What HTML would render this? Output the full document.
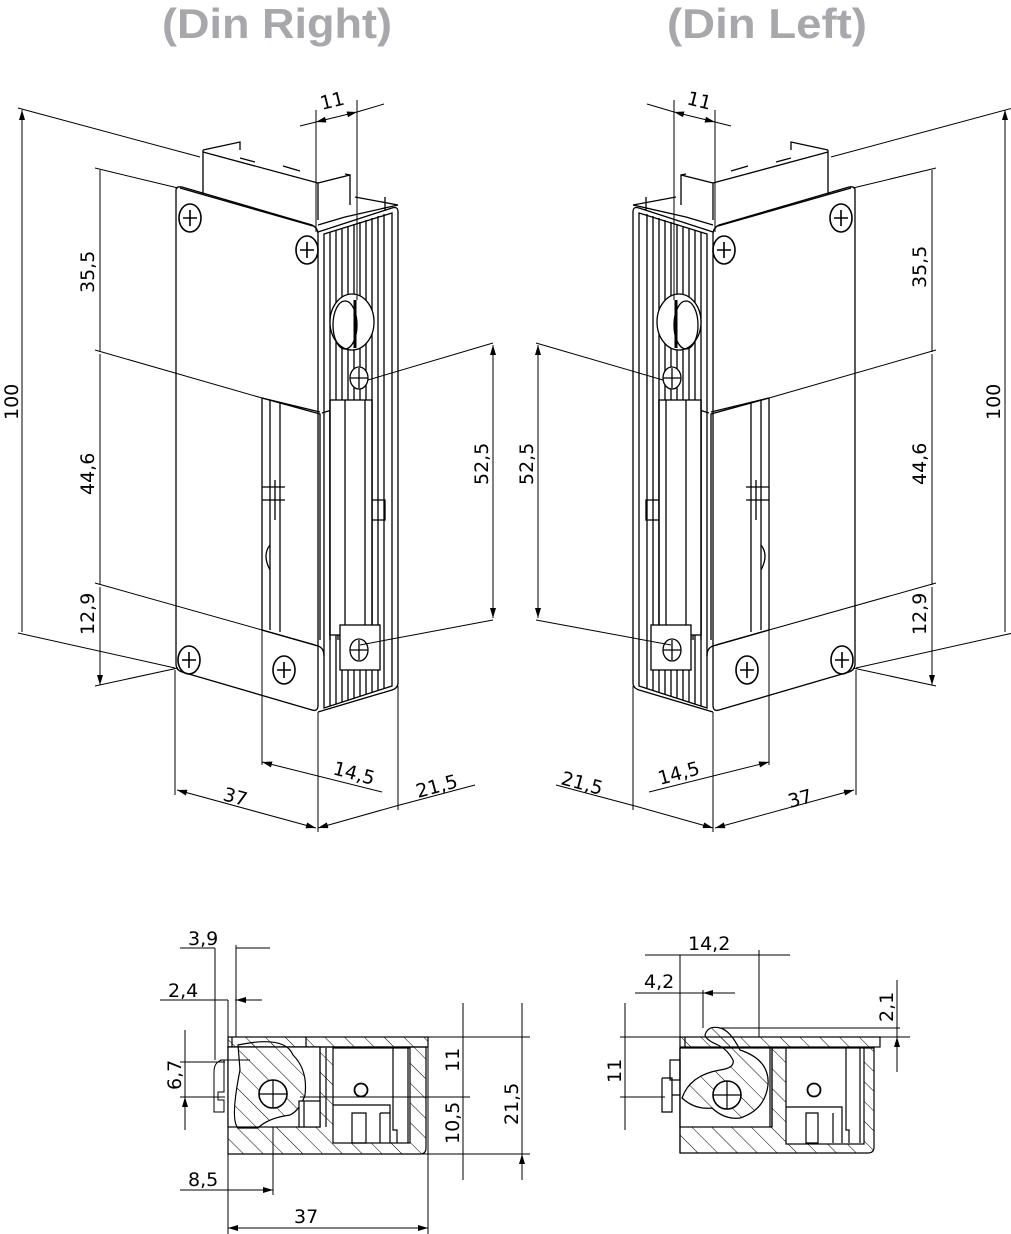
<!DOCTYPE html>
<html><head><meta charset="utf-8"><style>
html,body{margin:0;padding:0;background:#fff;width:1011px;height:1234px;overflow:hidden}
svg{display:block}
.t{font-family:"DejaVu Sans","Liberation Sans",sans-serif;font-size:19px;fill:#000}
.h{font-family:"Liberation Sans",sans-serif;font-weight:bold;font-size:42px;fill:#a7a7ac}
</style></head><body>
<svg width="1011" height="1234" viewBox="0 0 1011 1234" xmlns="http://www.w3.org/2000/svg">
<defs>
<pattern id="hat" width="14" height="14" patternUnits="userSpaceOnUse" patternTransform="rotate(-45)">
<line x1="0" y1="0" x2="0" y2="14" stroke="#000" stroke-width="1"/></pattern>
<marker id="a" viewBox="0 0 10 6" refX="10" refY="3" markerWidth="12" markerHeight="6" orient="auto-start-reverse" markerUnits="userSpaceOnUse"><path d="M0,0 L10,3 L0,6Z" fill="#000"/></marker>
<g id="body" fill="none" stroke="#000" stroke-width="1.3">
 <path d="M203,150 L203,195 M203,150 L240,142 L240,150 M203,152 L318,183 L318,220 M318,183 L350,175 L350,205 M350,175 L345,174"/>
 <path d="M240,158 L255,162 M283,166 L300,171"/>
 <path d="M176,190 Q176,186 182,187 L312,225 Q318,228 318,234 L318,705 Q318,712 312,710 L182,672 Q176,670 176,664 Z"/>
 <path d="M180,188 L313,226"/>
 <path d="M262,398 L262,630 M262,630 L315,645 M262,398 L320,412 M270,400 L270,630 M280,402 L280,632"/>
 <path d="M262,398 L320,414 L320,640 M330,410 L330,640 M322,413 L338,408 L338,640 M340,408 L340,640"/>
 <path d="M318,232 L392,208 Q398,206 398,212 L398,683 Q398,688 392,690 L318,712"/>
 <path d="M324,234 L392,213 L392,686 L324,708 Z"/>
 <path d="M330,232 V706 M336,230 V704 M342,228 V702 M348,226 V700 M354,224 V698 M360,222 V696 M366,220 V694 M372,218 V692 M378,216 V690 M384,214 V688"/>
 <path d="M318,225 L345,217 L398,205 M355,197 L398,205 M385,197 L385,210"/>
 <rect x="330" y="400" width="42" height="235" fill="#fff"/>
 <path d="M330,400 V635 M372,400 V635 M345,400 V635 M365,400 V635 M372,500 L385,500 V520 L372,520"/>
 <ellipse cx="352" cy="322" rx="22" ry="28" fill="#fff"/>
 <ellipse cx="345" cy="325" rx="12" ry="24"/>
 <path d="M355,300 V348" stroke-width="3"/>
 <ellipse cx="359" cy="378" rx="9" ry="11" fill="#fff"/><path d="M350,378 H368 M359,368 V388"/>
 <rect x="340" y="625" width="40" height="45" fill="#fff"/>
 <ellipse cx="359" cy="650" rx="9" ry="11"/><path d="M350,650 H368 M359,640 V660"/>
 <path d="M262,630 L318,646 Q324,648 324,656"/>
 <path d="M270,545 Q262,555 270,570 M275,480 L275,520 M262,487 L285,487 M262,500 L285,500"/>
 <g stroke-width="1.6"><ellipse cx="190" cy="218" rx="11" ry="14"/><path d="M183,218 H197 M190,210 V226"/>
 <ellipse cx="307" cy="250" rx="11" ry="14"/><path d="M300,250 H314 M307,242 V258"/>
 <ellipse cx="189" cy="660" rx="11" ry="14"/><path d="M182,660 H196 M189,652 V668"/>
 <ellipse cx="284" cy="670" rx="11" ry="14"/><path d="M277,670 H291 M284,662 V678"/></g>
</g>
</defs>
<text class="h" x="162" y="38" textLength="230" lengthAdjust="spacingAndGlyphs">(Din Right)</text>
<text class="h" x="667" y="38" textLength="200" lengthAdjust="spacingAndGlyphs">(Din Left)</text>

<use href="#body"/>
<use href="#body" transform="translate(1031,0) scale(-1,1)"/>

<g stroke="#000" stroke-width="1" fill="none">
 <path d="M18,108 L200,157 M18,633 L175,668 M95,168 L178,188 M95,350 L262,398 M95,583 L262,630 M95,686 L178,668"/>
 <path d="M22,110 V632 M100,170 V352 M100,354 V585 M100,587 V685" marker-start="url(#a)" marker-end="url(#a)"/>
 <path d="M493,343 L368,380 M493,620 L360,645"/>
 <path d="M493,345 V618" marker-start="url(#a)" marker-end="url(#a)"/>
 <path d="M316,110 V232 M357,100 V300"/>
 <path d="M300,126 L316,122 M357,112 L384,104"/>
 <path d="M316,122 L357,112" marker-start="url(#a)" marker-end="url(#a)"/>
 <path d="M175,670 V795 M318,712 V832 M262,630 V765 M398,686 V810"/>
 <path d="M177,790 L316,828" marker-start="url(#a)" marker-end="url(#a)"/>
 <path d="M262,762 L382,792" marker-start="url(#a)"/>
 <path d="M318,828 L396,806" marker-start="url(#a)"/><path d="M396,806 L475,785"/>
</g>
<g class="t">
 <text transform="translate(18,420) rotate(-90)">100</text>
 <text transform="translate(94,293) rotate(-90)">35,5</text>
 <text transform="translate(94,495) rotate(-90)">44,6</text>
 <text transform="translate(94,635) rotate(-90)">12,9</text>
 <text transform="translate(488,485) rotate(-90)">52,5</text>
 <text transform="translate(322,110) rotate(-14)">11</text>
 <text transform="translate(222,800) rotate(15)">37</text>
 <text transform="translate(332,774) rotate(15)">14,5</text>
 <text transform="translate(418,798) rotate(-15)">21,5</text>
</g>
<g stroke="#000" stroke-width="1" fill="none">
 <path d="M1013,108 L831,157 M1013,633 L856,668 M936,168 L853,188 M936,350 L769,398 M936,583 L769,630 M936,686 L853,668"/>
 <path d="M1005,110 V632 M932,170 V352 M932,354 V585 M932,587 V685" marker-start="url(#a)" marker-end="url(#a)"/>
 <path d="M536,343 L663,380 M536,620 L671,645"/>
 <path d="M538,345 V618" marker-start="url(#a)" marker-end="url(#a)"/>
 <path d="M715,110 V232 M674,100 V300"/>
 <path d="M731,126 L715,122 M674,112 L647,104"/>
 <path d="M715,122 L674,112" marker-start="url(#a)" marker-end="url(#a)"/>
 <path d="M856,670 V795 M713,712 V832 M769,630 V765 M633,686 V810"/>
 <path d="M854,790 L715,828" marker-start="url(#a)" marker-end="url(#a)"/>
 <path d="M769,762 L649,792" marker-start="url(#a)"/>
 <path d="M713,828 L635,806" marker-start="url(#a)"/><path d="M635,806 L556,785"/>
</g>
<g class="t">
 <text transform="translate(1000,420) rotate(-90)">100</text>
 <text transform="translate(926,288) rotate(-90)">35,5</text>
 <text transform="translate(926,485) rotate(-90)">44,6</text>
 <text transform="translate(926,635) rotate(-90)">12,9</text>
 <text transform="translate(533,485) rotate(-90)">52,5</text>
 <text transform="translate(686,104) rotate(14)">11</text>
 <text transform="translate(790,808) rotate(-15)">37</text>
 <text transform="translate(660,785) rotate(-15)">14,5</text>
 <text transform="translate(560,784) rotate(15)">21,5</text>
</g>

<g stroke="#000" stroke-width="1.2" fill="none">
 <path d="M228,1047 V1154 H420 Q426,1154 426,1148 V1047 Z" fill="url(#hat)"/>
 <rect x="228" y="1037" width="200" height="10" fill="url(#hat)"/>
 <path d="M306,1037 V1047 M232,1037 V1047"/>
 <rect x="228" y="1047" width="92" height="80" fill="#fff"/>
 <rect x="333" y="1048" width="77" height="95" fill="#fff"/>
 <path d="M320,1047 V1127 M326,1048 V1127"/>
 <path d="M238,1045 Q285,1035 293,1055 Q308,1070 305,1095 Q300,1110 290,1115 Q268,1118 258,1128 L238,1128 Q230,1120 240,1070 Z" fill="url(#hat)"/>
 <circle cx="273" cy="1094" r="14" fill="#fff" stroke-width="1.6"/>
 <path d="M259,1094 H287 M273,1080 V1108"/>
 <rect x="299" y="1101" width="21" height="26" fill="#fff"/>
 <path d="M304,1101 V1127"/>
 <circle cx="361" cy="1090" r="6.5" stroke-width="1.8"/>
 <path d="M333,1105 H390 V1143 M352,1113 V1143 H366 V1113 Z M380,1113 V1143 M380,1113 H390 M393,1048 V1130 H397 V1143 M408,1048 V1143"/>
 <path d="M222,1060 Q214,1062 214,1072 L214,1112 H224 V1100 H218 V1092 H224 V1060 Z M220,1060 H250 M228,1060 V1140" stroke-width="1"/>
</g>
<g stroke="#000" stroke-width="1" fill="none">
 <path d="M215,948 V1060 M236,945 V1037 M228,1000 V1037 M235,1000 H262 M160,1000 H228 M180,948 H215 M236,948 H270"/>
 <path d="M200,948 L215,948 M251,948 L236,948 M212,1000 L228,1000 M250,1000 L236,1000" marker-end="url(#a)"/>
 <path d="M180,1062 H225 M180,1097 H225 M185,1030 V1130"/>
 <path d="M185,1045 V1062 M185,1115 V1097" marker-end="url(#a)"/>
 <path d="M428,1037 H530 M422,1154 H530 M300,1097 H470 M463,1003 V1180 M522,1003 V1180"/>
 <path d="M463,1018 V1037 M463,1080 V1097 M463,1115 V1097 M463,1170 V1154 M522,1018 V1037 M522,1170 V1154" marker-end="url(#a)"/>
 <path d="M228,1154 V1234 M428,1047 V1234 M273,1127 V1195 M180,1190 H273"/>
 <path d="M213,1190 L228,1190 M258,1190 L273,1190" marker-end="url(#a)"/>
 <path d="M228,1228 H428" marker-start="url(#a)" marker-end="url(#a)"/>
</g>
<g class="t">
 <text x="188" y="945">3,9</text>
 <text x="168" y="997">2,4</text>
 <text transform="translate(181,1090) rotate(-90)">6,7</text>
 <text transform="translate(459,1072) rotate(-90)">11</text>
 <text transform="translate(459,1144) rotate(-90)">10,5</text>
 <text transform="translate(518,1125) rotate(-90)">21,5</text>
 <text x="188" y="1186">8,5</text>
 <text x="294" y="1223">37</text>
</g>

<g stroke="#000" stroke-width="1.2" fill="none">
 <path d="M680,1048 V1153 H868 Q874,1153 874,1147 V1048 Z" fill="url(#hat)"/>
 <rect x="680" y="1037" width="200" height="10" fill="url(#hat)"/>
 <path d="M685,1037 V1047"/>
 <rect x="680" y="1048" width="92" height="79" fill="#fff"/>
 <path d="M772,1048 V1127 M770,1048 V1127"/>
 <rect x="786" y="1048" width="78" height="96" fill="#fff"/>
 <path d="M705,1035 Q708,1025 720,1028 Q730,1030 740,1050 Q770,1060 768,1085 Q765,1110 740,1118 Q725,1120 712,1108 Q695,1110 682,1098 Q690,1075 720,1070 Q735,1068 733,1060 Q728,1050 718,1045 Q706,1040 705,1035 Z" fill="url(#hat)"/>
 <circle cx="727" cy="1095" r="14" fill="#fff" stroke-width="1.6"/>
 <path d="M713,1095 H741 M727,1081 V1109"/>
 <circle cx="814" cy="1090" r="6.5" stroke-width="1.8"/>
 <path d="M786,1107 H842 V1143 M806,1113 V1143 H818 V1113 Z M833,1113 V1143 M846,1048 V1130 H849 V1143 M860,1048 V1143"/>
 <rect x="670" y="1060" width="10" height="20"/>
 <path d="M662,1078 H672 V1095 H680 M662,1078 V1112 H672 V1095 M680,1048 V1153"/>
</g>
<g stroke="#000" stroke-width="1" fill="none">
 <path d="M680,955 V1037 M759,950 V1037 M703,990 V1028 M645,955 H790 M635,993 H735 M720,1028 H900 M620,1037 H680 M880,1037 H910 M620,1097 H665 M625,1003 V1130 M897,980 V1072"/>
 <path d="M665,955 L680,955 M774,955 L759,955 M665,993 L680,993 M718,993 L703,993" marker-end="url(#a)"/>
 <path d="M625,1020 V1037 M625,1115 V1097 M897,1012 V1028 M897,1053 V1037" marker-end="url(#a)"/>
</g>
<g class="t">
 <text x="688" y="950">14,2</text>
 <text x="644" y="988">4,2</text>
 <text transform="translate(621,1083) rotate(-90)">11</text>
 <text transform="translate(893,1022) rotate(-90)">2,1</text>
</g>
</svg>
</body></html>
